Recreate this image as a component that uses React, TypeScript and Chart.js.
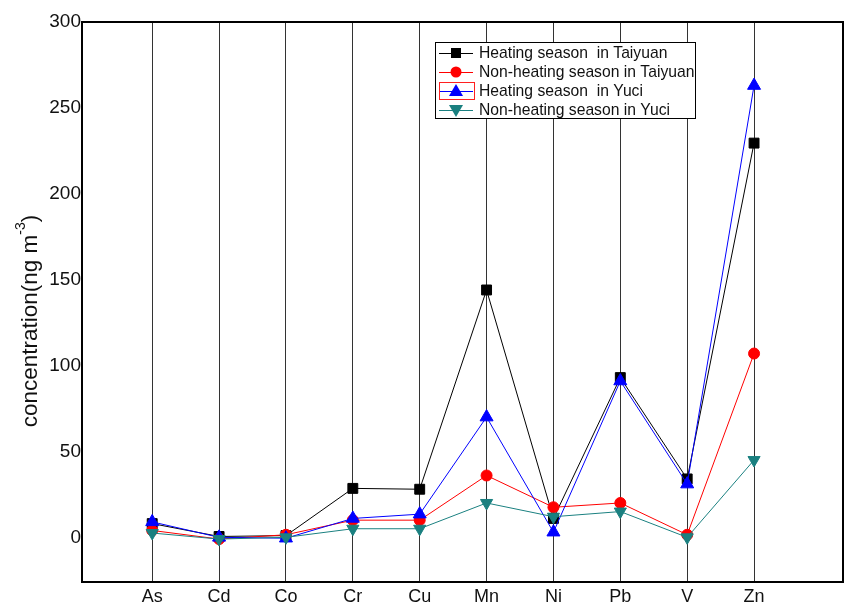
import React, { useEffect, useRef } from "react";
import { Chart, registerables } from "chart.js";

Chart.register(...registerables);

const categories = ["As", "Cd", "Co", "Cr", "Cu", "Mn", "Ni", "Pb", "V", "Zn"];
const heatingTaiyuan = [8, 0.5, 1, 28.5, 28, 144, 11, 93, 34, 229.5];
const nonHeatingTaiyuan = [4, -1, 1.5, 10, 10, 36, 17.5, 20, 1.5, 107];
const heatingYuci = [9, 0, -0.5, 11, 13.5, 70, 3, 91, 31, 263];
const nonHeatingYuci = [2.5, -1, 0, 5, 5, 20, 12, 15, 0, 45];
const yTicks = [0, 50, 100, 150, 200, 250, 300];

const seriesNames = [
  "Heating season  in Taiyuan",
  "Non-heating season in Taiyuan",
  "Heating season  in Yuci",
  "Non-heating season in Yuci",
];

const FONT = "Arial, 'Liberation Sans', sans-serif";

export default function App() {
  const ref = useRef<HTMLCanvasElement | null>(null);

  useEffect(() => {
    if (!ref.current) return;
    const toPts = (arr: number[]) => arr.map((v, i) => ({ x: i, y: v }));

    const frame = {
      id: "frame",
      afterDatasetsDraw(chart: any) {
        const { ctx, chartArea: a } = chart;
        ctx.save();
        ctx.strokeStyle = "#000";
        ctx.lineWidth = 2;
        ctx.strokeRect(a.left, a.top, a.right - a.left, a.bottom - a.top);
        ctx.restore();
      },
      afterDraw(chart: any) {
        const { ctx } = chart;
        // legend
        const lx = 435, ly = 42, lw = 260, lh = 76;
        ctx.save();
        ctx.fillStyle = "#fff";
        ctx.fillRect(lx, ly, lw, lh);
        ctx.strokeStyle = "#000";
        ctx.lineWidth = 1;
        ctx.strokeRect(lx + 0.5, ly + 0.5, lw, lh);
        const rows = [53, 72, 91, 110];
        chart.data.datasets.forEach((ds: any, i: number) => {
          const y = rows[i];
          ctx.strokeStyle = ds.borderColor;
          ctx.lineWidth = 1;
          ctx.beginPath();
          ctx.moveTo(439, y + 0.5);
          ctx.lineTo(473, y + 0.5);
          ctx.stroke();
          ctx.fillStyle = ds.backgroundColor;
          ctx.beginPath();
          const mx = 456;
          if (i === 0) {
            ctx.fillRect(mx - 5, y - 5, 10, 10);
          } else if (i === 1) {
            ctx.arc(mx, y, 5.5, 0, Math.PI * 2);
            ctx.fill();
          } else if (i === 2) {
            ctx.moveTo(mx, y - 7);
            ctx.lineTo(mx + 7, y + 5);
            ctx.lineTo(mx - 7, y + 5);
            ctx.closePath();
            ctx.fill();
          } else {
            ctx.moveTo(mx, y + 7);
            ctx.lineTo(mx + 7, y - 5);
            ctx.lineTo(mx - 7, y - 5);
            ctx.closePath();
            ctx.fill();
          }
          ctx.fillStyle = "#111";
          ctx.font = `15.7px ${FONT}`;
          ctx.textBaseline = "middle";
          ctx.textAlign = "left";
          ctx.fillText(seriesNames[i], 479, y + 1);
        });
        ctx.strokeStyle = "#ff2020";
        ctx.lineWidth = 1;
        ctx.strokeRect(439.5, 82.5, 35, 17);
        // y title
        ctx.translate(31, 321);
        ctx.rotate(-Math.PI / 2);
        ctx.fillStyle = "#111";
        ctx.textBaseline = "middle";
        const main = "concentration(ng m";
        const sup = "-3";
        const tail = ")";
        ctx.font = `22.5px ${FONT}`;
        const w1 = ctx.measureText(main).width;
        const w3 = ctx.measureText(tail).width;
        ctx.font = `14px ${FONT}`;
        const w2 = ctx.measureText(sup).width;
        const total = w1 + w2 + w3;
        let x = -total / 2;
        ctx.textAlign = "left";
        ctx.font = `22.5px ${FONT}`;
        ctx.fillText(main, x, 0);
        x += w1;
        ctx.font = `14px ${FONT}`;
        ctx.fillText(sup, x, -10);
        x += w2;
        ctx.font = `22.5px ${FONT}`;
        ctx.fillText(tail, x, 0);
        ctx.restore();
      },
    };

    const chart = new Chart(ref.current, {
      type: "line",
      data: {
        datasets: [
          {
            label: seriesNames[0],
            data: toPts(heatingTaiyuan),
            borderColor: "#000000",
            backgroundColor: "#000000",
            pointStyle: "rect",
            pointRadius: 7,
            borderWidth: 1,
            order: 4,
          },
          {
            label: seriesNames[1],
            data: toPts(nonHeatingTaiyuan),
            borderColor: "#ff0000",
            backgroundColor: "#ff0000",
            pointStyle: "circle",
            pointRadius: 5.5,
            borderWidth: 1,
            order: 3,
          },
          {
            label: seriesNames[2],
            data: toPts(heatingYuci),
            borderColor: "#0000ff",
            backgroundColor: "#0000ff",
            pointStyle: "triangle",
            pointRadius: 7.5,
            borderWidth: 1,
            order: 2,
          },
          {
            label: seriesNames[3],
            data: toPts(nonHeatingYuci),
            borderColor: "#1a8080",
            backgroundColor: "#1a8080",
            pointStyle: "triangle",
            pointRotation: 180,
            pointRadius: 7,
            borderWidth: 1,
            order: 1,
          },
        ],
      },
      options: {
        animation: false,
        responsive: false,
        maintainAspectRatio: false,
        layout: { autoPadding: false, padding: { top: 22, right: 3, left: 0, bottom: 0 } },
        plugins: { legend: { display: false }, tooltip: { enabled: false } },
        elements: { line: { tension: 0 }, point: { borderWidth: 0 } },
        scales: {
          x: {
            type: "linear",
            min: -1.05,
            max: 10.33,
            afterBuildTicks: (s: any) => {
              s.ticks = categories.map((_, i) => ({ value: i }));
            },
            afterFit: (s: any) => {
              s.height = 24;
            },
            ticks: {
              callback: (v: any) => categories[v] ?? "",
              color: "#111",
              font: { size: 18, family: FONT },
              padding: 4,
              maxRotation: 0,
              autoSkip: false,
            },
            grid: { color: "#333", lineWidth: 1, drawTicks: false },
            border: { display: false },
          },
          y: {
            type: "linear",
            min: -26,
            max: 300,
            afterBuildTicks: (s: any) => {
              s.ticks = yTicks.map((v) => ({ value: v }));
            },
            afterFit: (s: any) => {
              s.width = 82;
            },
            ticks: {
              color: "#111",
              font: { size: 19, family: FONT },
              padding: 1,
            },
            grid: { display: false, drawTicks: false },
            border: { display: false },
          },
        },
      },
      plugins: [frame],
    } as any);
    return () => chart.destroy();
  }, []);

  return (
    <div style={{ position: "fixed", left: 0, top: 0, width: 846, height: 606, background: "#fff" }}>
      <canvas ref={ref} width={846} height={606} style={{ width: 846, height: 606 }} />
    </div>
  );
}
